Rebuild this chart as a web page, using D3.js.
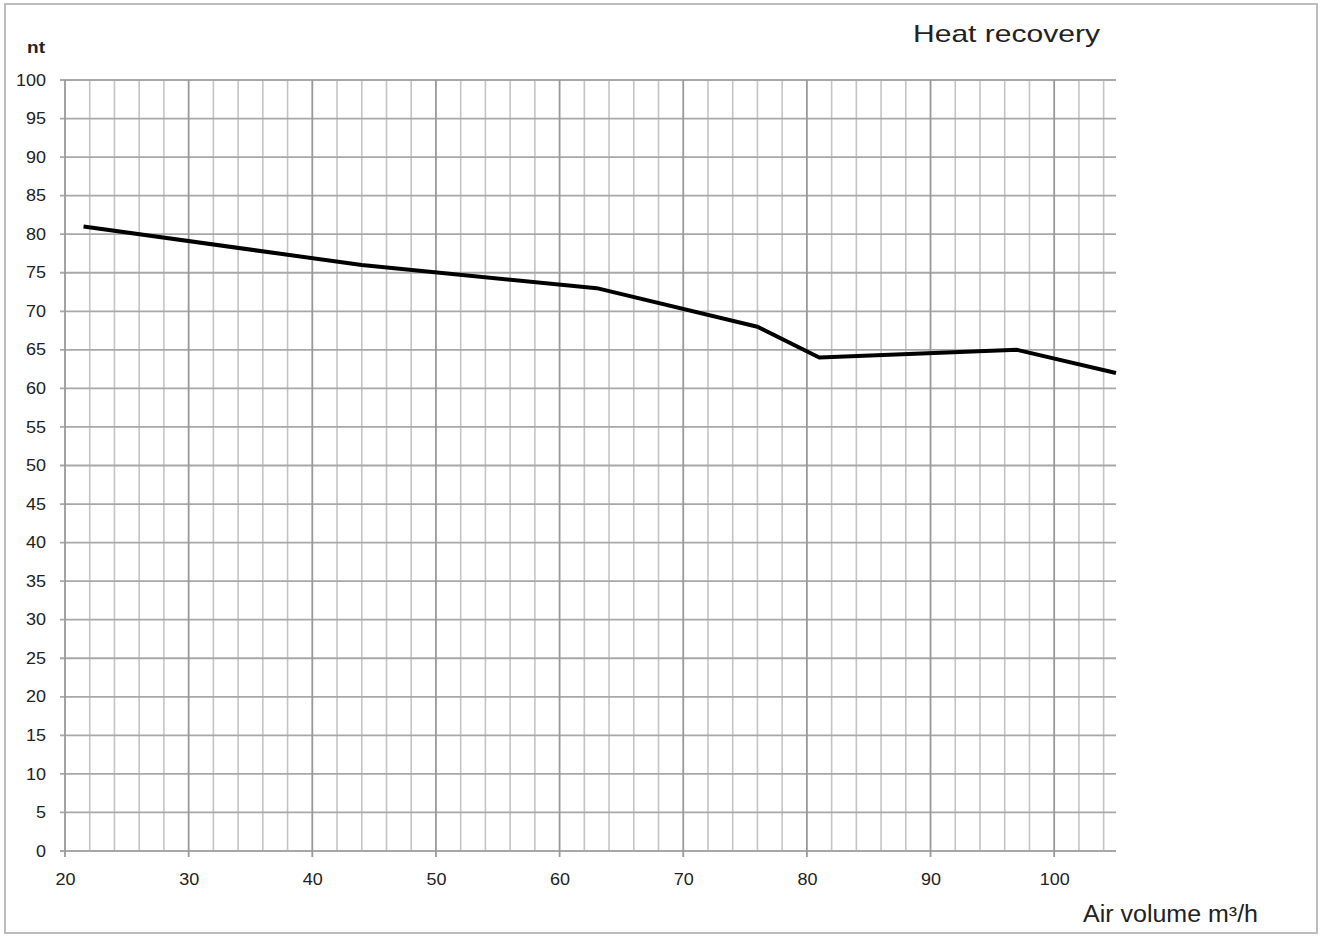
<!DOCTYPE html>
<html>
<head>
<meta charset="utf-8">
<script src="https://cdn.jsdelivr.net/npm/d3@7"></script>
<style>
  body { margin: 0; background: #fff; }
  svg { display: block; }
  text { font-family: "Liberation Sans", Arial, sans-serif; fill: #222; }
</style>
</head>
<body>
<svg id="chart" width="1321" height="937"></svg>
<script>
// ---- data ----
const airVolume = [21.5, 44, 63, 76, 81, 97, 105];
const heatRecovery = [81, 76, 73, 68, 64, 65, 62];
const xTickLabels = [20, 30, 40, 50, 60, 70, 80, 90, 100];
const xMinorTicks = d3.range(20, 105, 2);
const yTickLabels = d3.range(0, 101, 5);
const titleText = "Heat recovery";
const xAxisTitle = "Air volume m³/h";
const yAxisTitle = "nt";

const svg = d3.select("#chart");

// frame
svg.append("rect")
  .attr("x", 5).attr("y", 4).attr("width", 1312).attr("height", 929)
  .attr("fill", "none").attr("stroke", "#bdbdbd").attr("stroke-width", 2);

const x = d3.scaleLinear().domain([20, 105]).range([65, 1116]);
const y = d3.scaleLinear().domain([0, 100]).range([851, 80]);

// minor vertical grid
svg.append("g").selectAll("line").data(xMinorTicks.filter(v => v % 10 !== 0)).join("line")
  .attr("x1", d => x(d)).attr("x2", d => x(d))
  .attr("y1", y(100)).attr("y2", y(0))
  .attr("stroke", "#c4c4c4").attr("stroke-width", 1.6);

// horizontal grid
svg.append("g").selectAll("line").data(yTickLabels).join("line")
  .attr("x1", x(20) - 5).attr("x2", x(105))
  .attr("y1", d => y(d)).attr("y2", d => y(d))
  .attr("stroke", "#a8a8a8").attr("stroke-width", 1.8);

// major vertical grid (with ticks extending below axis)
svg.append("g").selectAll("line").data(xTickLabels).join("line")
  .attr("x1", d => x(d)).attr("x2", d => x(d))
  .attr("y1", y(100)).attr("y2", y(0) + 6)
  .attr("stroke", "#999").attr("stroke-width", 1.8);

// y axis labels
const yAxis = d3.axisLeft(y).tickValues(yTickLabels).tickSize(0).tickPadding(0);
const gy = svg.append("g").attr("transform", `translate(${x(20) - 19},0)`).call(yAxis);
gy.select(".domain").remove();
gy.selectAll("text")
  .attr("font-size", 16)
  .attr("font-family", "Liberation Sans, Arial, sans-serif")
  .attr("fill", "#333")
  .attr("textLength", d => String(d).length * 10)
  .attr("lengthAdjust", "spacingAndGlyphs");

// x axis labels
const xAxis = d3.axisBottom(x).tickValues(xTickLabels).tickSize(0).tickPadding(0);
const gx = svg.append("g").attr("transform", `translate(0,${y(0) + 21})`).call(xAxis);
gx.select(".domain").remove();
gx.selectAll("text")
  .attr("font-size", 16)
  .attr("font-family", "Liberation Sans, Arial, sans-serif")
  .attr("fill", "#333")
  .attr("dy", "0")
  .attr("y", 13)
  .attr("textLength", d => String(d).length * 10)
  .attr("lengthAdjust", "spacingAndGlyphs");

// line
const line = d3.line().x((d, i) => x(airVolume[i])).y(d => y(d));
svg.append("path")
  .datum(heatRecovery)
  .attr("d", line)
  .attr("fill", "none")
  .attr("stroke", "#000")
  .attr("stroke-width", 4)
  .attr("stroke-linejoin", "round");

// titles
svg.append("text").attr("x", 913).attr("y", 42)
  .attr("font-size", 24).attr("textLength", 187).attr("lengthAdjust", "spacingAndGlyphs")
  .text(titleText);
svg.append("text").attr("x", 1083).attr("y", 922)
  .attr("font-size", 23).attr("textLength", 175).attr("lengthAdjust", "spacingAndGlyphs")
  .text(xAxisTitle);
svg.append("text").attr("x", 27).attr("y", 53)
  .attr("font-size", 16).attr("font-weight", "bold").attr("textLength", 18).attr("lengthAdjust", "spacingAndGlyphs")
  .text(yAxisTitle);
</script>
</body>
</html>
